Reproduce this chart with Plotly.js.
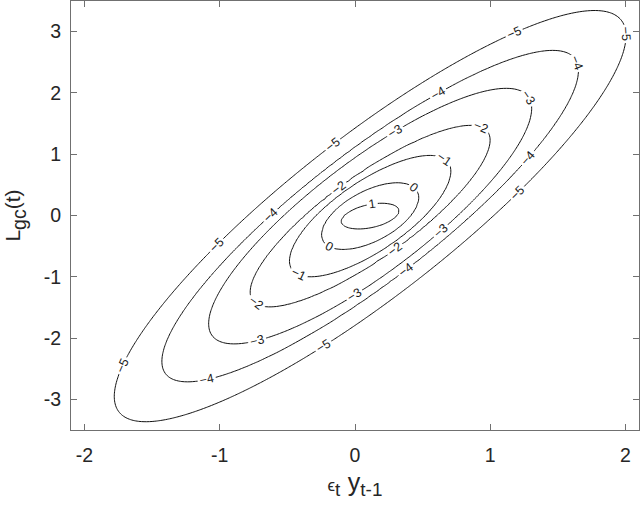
<!DOCTYPE html>
<html><head><meta charset="utf-8">
<script src="https://cdn.plot.ly/plotly-3.0.1.min.js"></script>
<style>html,body{margin:0;padding:0;background:#fff}</style>
</head><body><div id="chart" style="width:640px;height:505px"></div>
<script>
// Tick labels
const xTickVals = [-2, -1, 0, 1, 2];
const xTickText = ['-2', '-1', '0', '1', '2'];
const yTickVals = [-3, -2, -1, 0, 1, 2, 3];
const yTickText = ['-3', '-2', '-1', '0', '1', '2', '3'];

// Contour levels and the size/shape of each level's closed curve
const contourLevels = [1.6, 1, 0, -1, -2, -3, -4, -5, -6];
const levelXHalf    = [0.0, 0.215, 0.357, 0.596, 0.887, 1.194, 1.540, 1.892, 2.24];
const levelYHalf    = [0.0, 0.210, 0.543, 0.990, 1.480, 2.085, 2.704, 3.355, 4.00];
const levelCorr     = [0.40, 0.40, 0.56, 0.74, 0.838, 0.842, 0.877, 0.877, 0.877];
const centerX = 0.112, centerY = -0.01;
const shownLevelMin = -5, shownLevelMax = 1;

function levelParams(l) {
  const n = contourLevels.length;
  let i = 0;
  while (i < n - 2 && l < contourLevels[i + 1]) i++;
  const t = (contourLevels[i] - l) / (contourLevels[i] - contourLevels[i + 1]);
  const lerp = (a) => a[i] + (a[i + 1] - a[i]) * t;
  return [Math.max(lerp(levelXHalf), 1e-6), Math.max(lerp(levelYHalf), 1e-6), Math.min(lerp(levelCorr), 0.95)];
}
function qForm(l, dx, dy) {
  const p = levelParams(l);
  const a = dx / p[0], b = dy / p[1], r = p[2];
  return (a * a - 2 * r * a * b + b * b) / (1 - r * r);
}
function zAt(x, y) {
  const dx = x - centerX, dy = y - centerY;
  let lo = -9, hi = 1.6, l;
  if (qForm(lo, dx, dy) > 1) l = lo;
  else {
    for (let k = 0; k < 36; k++) {
      const mid = 0.5 * (lo + hi);
      if (qForm(mid, dx, dy) <= 1) lo = mid; else hi = mid;
    }
    l = 0.5 * (lo + hi);
  }
  // beyond the outermost drawn level, flatten smoothly (no further contours in the reference)
  if (l < shownLevelMin) l = shownLevelMin - 0.8 * (1 - Math.exp((l - shownLevelMin) / 0.8));
  return l;
}

const xs = [], ys = [];
for (let i = 0; i <= 210; i++) xs.push(-2.1 + i * 0.02);
for (let j = 0; j <= 280; j++) ys.push(-3.5 + j * 0.025);
const zGrid = ys.map(y => xs.map(x => zAt(x, y)));

const FONT = 'Liberation Sans, Arial, Helvetica, sans-serif';
const axisCommon = {
  ticks: 'inside', ticklen: 6, tickwidth: 1, tickcolor: '#707070',
  showline: true, linecolor: '#707070', linewidth: 1, mirror: 'ticks',
  showgrid: false, zeroline: false,
  tickfont: {family: FONT, size: 19.5, color: '#262626'}
};

const trace = {
  type: 'contour', x: xs, y: ys, z: zGrid,
  autocontour: false,
  // many empty levels below the data only make Plotly place labels more densely
  contours: {start: shownLevelMax - 67, end: shownLevelMax, size: 1, coloring: 'lines', showlabels: true,
    labelformat: '.0f',
    labelfont: {family: FONT, size: 12.5, color: '#1a1a1a'}},
  colorscale: [[0, '#111'], [1, '#111']],
  line: {width: 1, smoothing: 1},
  showscale: false, hoverinfo: 'skip'
};

const layout = {
  width: 640, height: 505,
  margin: {l: 71, r: 1, t: 1, b: 75},
  paper_bgcolor: '#fff', plot_bgcolor: '#fff',
  showlegend: false,
  xaxis: Object.assign({}, axisCommon, {
    range: [-2.1, 2.1], tickmode: 'array', tickvals: xTickVals, ticktext: xTickText,
    ticklabelstandoff: 8,
    title: {text: '<span style="font-size:17px">ϵ</span><sub>t</sub> <span style="font-size:25px">y</span><sub>t-1</sub>',
      font: {family: FONT, size: 27, color: '#262626'}, standoff: 6}
  }),
  yaxis: Object.assign({}, axisCommon, {
    range: [-3.5, 3.5], tickmode: 'array', tickvals: yTickVals, ticktext: yTickText,
    ticklabelstandoff: 5,
    title: {text: '<span style="font-size:21px">L</span><sub>gc</sub><span style="font-size:21px">(t)</span>',
      font: {family: FONT, size: 28, color: '#262626'}, standoff: 14}
  })
};

Plotly.newPlot('chart', [trace], layout, {staticPlot: true, displayModeBar: false});
</script></body></html>
